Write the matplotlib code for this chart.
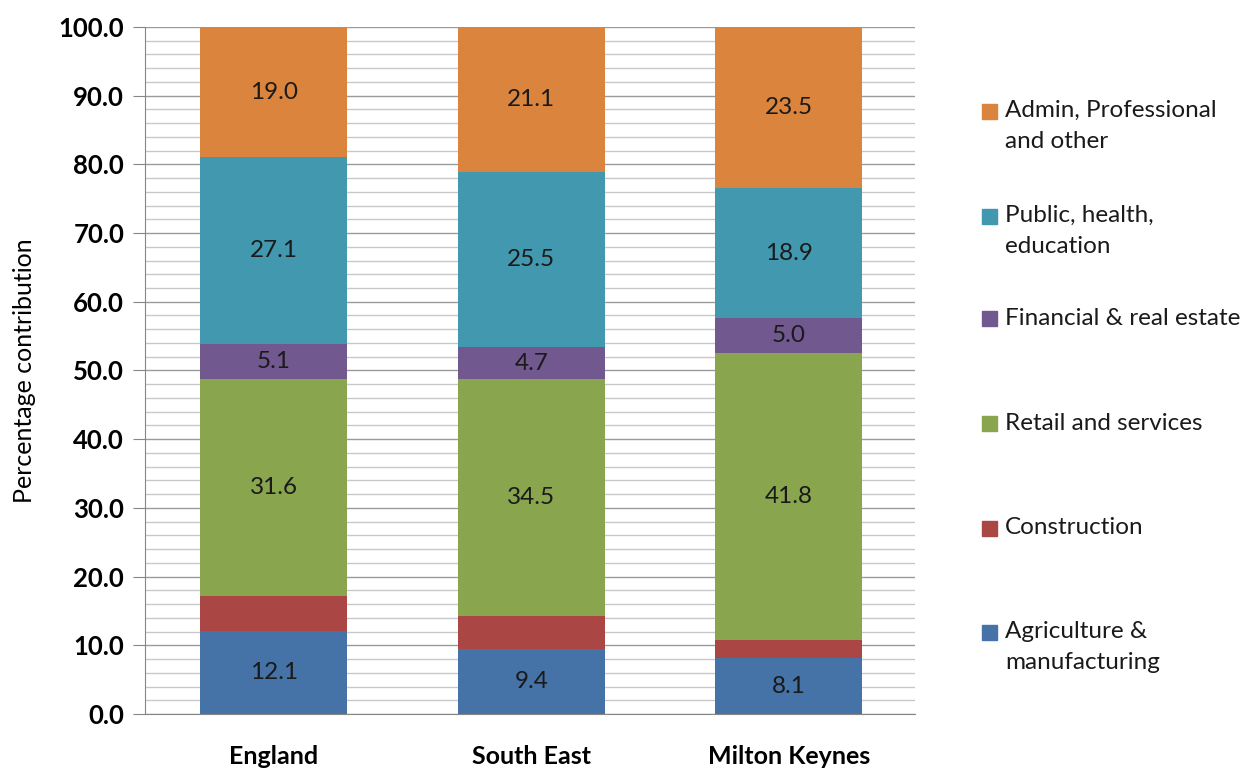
import matplotlib
matplotlib.use("Agg")
import matplotlib.pyplot as plt
import numpy as np
from matplotlib.patches import Rectangle
from matplotlib.ticker import MultipleLocator

plt.rcParams["font.family"] = ["Lato", "DejaVu Sans"]

regions = ["England", "South East", "Milton Keynes"]
sectors = [
    "Agriculture &\nmanufacturing",
    "Construction",
    "Retail and services",
    "Financial & real estate",
    "Public, health,\neducation",
    "Admin, Professional\nand other",
]
agriculture = [12.1, 9.4, 8.1]
construction = [5.1, 4.8, 2.7]
retail = [31.6, 34.5, 41.8]
financial = [5.1, 4.7, 5.0]
public = [27.1, 25.5, 18.9]
admin = [19.0, 21.1, 23.5]
series = [agriculture, construction, retail, financial, public, admin]
show_labels = [True, False, True, True, True, True]

colors = ["#4572A7", "#AA4643", "#89A54E", "#71588F", "#4198AF", "#DB843D"]


def main():
    fig = plt.figure(figsize=(12.5, 7.69), dpi=100)
    ax = fig.add_axes([0.116, 0.0715, 0.616, 0.8935])

    x = np.arange(len(regions))
    bottom = np.zeros(len(regions))
    for vals, col, lab in zip(series, colors, show_labels):
        vals = np.array(vals)
        ax.bar(x, vals, width=0.57, bottom=bottom, color=col, zorder=3)
        if lab:
            for xi, b, v in zip(x, bottom, vals):
                ax.text(xi, b + v / 2, f"{v:.1f}", ha="center", va="center",
                        fontsize=17.5, color="#1a1a1a", zorder=4)
        bottom += vals

    ax.set_xlim(-0.5, 2.49)
    ax.set_ylim(0, 100)
    ax.yaxis.set_minor_locator(MultipleLocator(2))
    ax.set_yticks(np.arange(0, 101, 10))
    ax.set_yticklabels([f"{v:.1f}" for v in np.arange(0, 101, 10)],
                       fontsize=18.5, fontweight="bold")
    ax.set_xticks(x)
    ax.set_xticklabels(regions, fontsize=18, fontweight="bold")
    ax.tick_params(axis="x", length=0, pad=22)
    ax.tick_params(axis="y", which="major", length=9, color="#868686",
                   direction="out", pad=6)
    ax.tick_params(axis="y", which="minor", length=0)

    ax.grid(axis="y", which="major", color="#9a9a9a", linewidth=1.0, zorder=0)
    ax.grid(axis="y", which="minor", color="#c8c8c8", linewidth=1.0, zorder=0)
    for side in ["top", "right"]:
        ax.spines[side].set_visible(False)
    ax.spines["left"].set_color("#868686")
    ax.spines["bottom"].set_color("#868686")

    ax.set_ylabel("Percentage contribution", fontsize=18)
    ax.yaxis.set_label_coords(-0.141, 0.5)

    # legend, top series first, square sits on the first text line
    legend_y = [126, 231, 319, 423, 528, 647]
    W, H = 1250, 769
    for name, col, yp in zip(sectors[::-1], colors[::-1], legend_y):
        fy = 1 - yp / H
        nlines = name.count("\n") + 1
        sq = 1 - (yp - (nlines - 1) * 15) / H
        fig.patches.append(Rectangle((982 / W, sq - 7.5 / H), 15 / W, 15 / H,
                                     transform=fig.transFigure, color=col))
        fig.text(1005 / W, fy, name, ha="left", va="center", fontsize=17.5,
                 color="#1a1a1a", linespacing=1.55)

    fig.savefig("out.png", dpi=100)
    plt.close(fig)


if __name__ == "__main__":
    main()
